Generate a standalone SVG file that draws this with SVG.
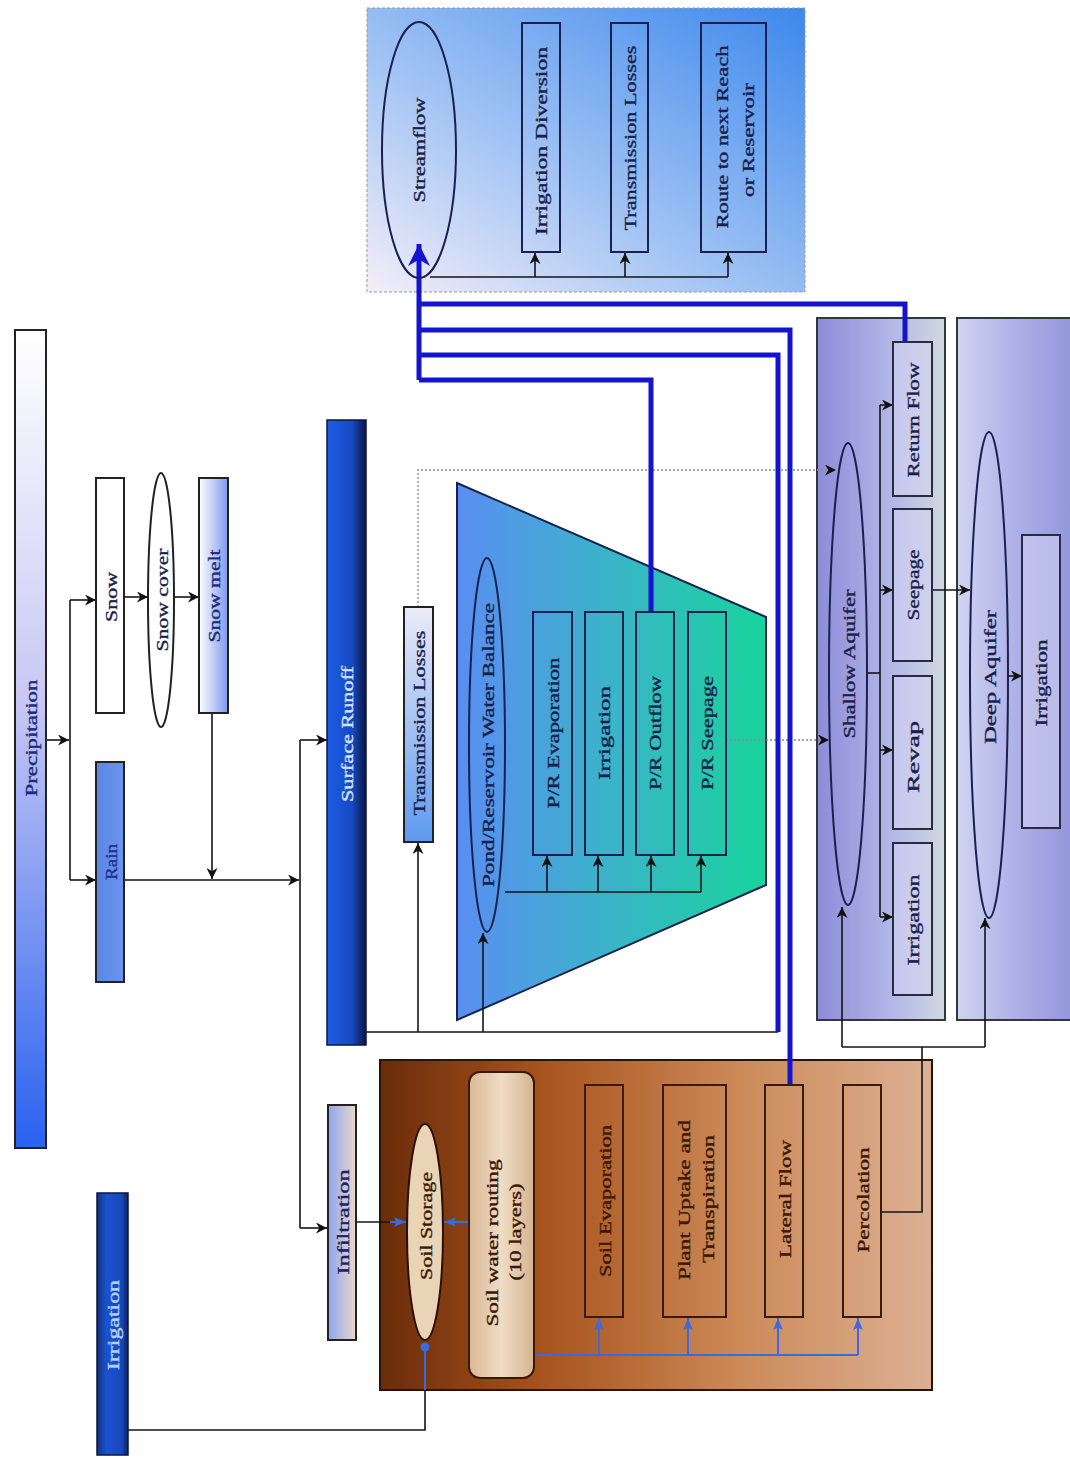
<svg xmlns="http://www.w3.org/2000/svg" width="1070" height="1458" viewBox="0 0 1070 1458">
<style>
text{font-family:"Liberation Serif","Times New Roman",serif;font-size:16px;text-anchor:middle;dominant-baseline:central;color:#1a1f4a;fill:currentColor;stroke:currentColor;stroke-width:0.35}
.box{fill:none;stroke:#1a2050;stroke-width:2}
.ln{fill:none;stroke:#151515;stroke-width:1.6}
.bl{fill:none;stroke:#1414d0;stroke-width:5}
.sb{fill:none;stroke:#3a6ae0;stroke-width:2}
.dt{fill:none;stroke:#8a8a8a;stroke-width:1.3;stroke-dasharray:2 2}
.sbox{fill:none;stroke:#3a1a0a;stroke-width:2}
.abox{fill:#d4d6f2;fill-opacity:0.55;stroke:#2a2a40;stroke-width:2}
.st{color:#3a1808}
</style>
<defs>
<linearGradient id="gPrec" x1="0" y1="0" x2="0" y2="1"><stop offset="0" stop-color="#ffffff"/><stop offset="0.45" stop-color="#c8c8f4"/><stop offset="1" stop-color="#2a62f0"/></linearGradient>
<linearGradient id="gMelt" x1="0" y1="0" x2="1" y2="0"><stop offset="0" stop-color="#ffffff"/><stop offset="1" stop-color="#7d98ee"/></linearGradient>
<linearGradient id="gRain" x1="0" y1="0" x2="1" y2="0"><stop offset="0" stop-color="#5a86e6"/><stop offset="1" stop-color="#6a94ee"/></linearGradient>
<linearGradient id="gSR" x1="0" y1="0" x2="1" y2="0"><stop offset="0" stop-color="#1c5ee8"/><stop offset="0.65" stop-color="#1848c0"/><stop offset="1" stop-color="#0a1640"/></linearGradient>
<linearGradient id="gIrr" x1="0" y1="0" x2="1" y2="0"><stop offset="0" stop-color="#14307a"/><stop offset="0.3" stop-color="#1a52d0"/><stop offset="0.8" stop-color="#1848b8"/><stop offset="1" stop-color="#0e2260"/></linearGradient>
<linearGradient id="gInf" x1="0" y1="0" x2="1" y2="0"><stop offset="0" stop-color="#8ea6f0"/><stop offset="1" stop-color="#ead8c8"/></linearGradient>
<linearGradient id="gTL" x1="0" y1="0" x2="0" y2="1"><stop offset="0" stop-color="#ecebf8"/><stop offset="1" stop-color="#5d9af0"/></linearGradient>
<linearGradient id="gPanel" x1="0" y1="1" x2="1" y2="0"><stop offset="0" stop-color="#f4eef8"/><stop offset="0.4" stop-color="#a6c6f4"/><stop offset="1" stop-color="#3c88ec"/></linearGradient>
<linearGradient id="gTrap" x1="0" y1="0" x2="1" y2="0"><stop offset="0" stop-color="#5a8ef2"/><stop offset="0.5" stop-color="#3ab4c8"/><stop offset="1" stop-color="#18d49c"/></linearGradient>
<linearGradient id="gSh" x1="0" y1="0" x2="1" y2="0"><stop offset="0" stop-color="#8c8cd8"/><stop offset="0.6" stop-color="#b4b8e8"/><stop offset="1" stop-color="#d0d8e0"/></linearGradient>
<linearGradient id="gDp" x1="0" y1="0" x2="1" y2="0"><stop offset="0" stop-color="#d0d4f0"/><stop offset="0.5" stop-color="#aeb0e8"/><stop offset="1" stop-color="#9294dc"/></linearGradient>
<linearGradient id="gSoil" x1="0" y1="0" x2="1" y2="0"><stop offset="0" stop-color="#6a2c0a"/><stop offset="0.3" stop-color="#a8541e"/><stop offset="0.65" stop-color="#cc8a58"/><stop offset="1" stop-color="#dcb094"/></linearGradient>
<linearGradient id="gSWR" x1="0" y1="0" x2="1" y2="0"><stop offset="0" stop-color="#d8b896"/><stop offset="0.5" stop-color="#f0dcc4"/><stop offset="1" stop-color="#d4b492"/></linearGradient>
<marker id="ah" viewBox="0 0 10 10" refX="10" refY="5" markerWidth="11" markerHeight="11" markerUnits="userSpaceOnUse" orient="auto"><path d="M0,0 L10,5 L0,10 L3,5 z" fill="#111"/></marker>
<marker id="ahb" viewBox="0 0 10 10" refX="10" refY="5" markerWidth="22" markerHeight="22" markerUnits="userSpaceOnUse" orient="auto"><path d="M0,0 L10,5 L0,10 L3,5 z" fill="#1414d0"/></marker>
<marker id="ahs" viewBox="0 0 10 10" refX="10" refY="5" markerWidth="12" markerHeight="12" markerUnits="userSpaceOnUse" orient="auto"><path d="M0,1 L10,5 L0,9 L2,5 z" fill="#3a6ae0"/></marker>
</defs>
<rect width="1070" height="1458" fill="#ffffff"/>

<g id="streamflow-panel">
<rect x="367" y="8" width="438" height="284" fill="url(#gPanel)" stroke="#9a9a9a" stroke-width="1" stroke-dasharray="3 2"/>
</g>
<g id="soil-panel">
<rect x="380" y="1060" width="552" height="330" fill="url(#gSoil)" stroke="#2a1408" stroke-width="2"/>
</g>
<g id="shallow-panel">
<rect x="817" y="318" width="128" height="702" fill="url(#gSh)" stroke="#303838" stroke-width="2"/>
</g>
<g id="deep-panel">
<rect x="957" y="318" width="118" height="702" fill="url(#gDp)" stroke="#303838" stroke-width="2"/>
</g>
<g id="reservoir">
<polygon points="457,483 766,617 766,885 457,1020" fill="url(#gTrap)" stroke="#1a2050" stroke-width="2"/>
</g>

<g id="connectors">
<path class="ln" d="M46,740 H69" marker-end="url(#ah)"/>
<path class="ln" d="M70,600 V880"/>
<path class="ln" d="M70,600 H96" marker-end="url(#ah)"/>
<path class="ln" d="M70,880 H96" marker-end="url(#ah)"/>
<path class="ln" d="M124,597 H148" marker-end="url(#ah)"/>
<path class="ln" d="M174,597 H199" marker-end="url(#ah)"/>
<path class="ln" d="M212,713 V879" marker-end="url(#ah)"/>
<path class="ln" d="M124,880 H299" marker-end="url(#ah)"/>
<path class="ln" d="M300,740 V1228"/>
<path class="ln" d="M300,740 H327" marker-end="url(#ah)"/>
<path class="ln" d="M300,1228 H327" marker-end="url(#ah)"/>
<path class="ln" d="M356,1222 H390"/>
<path class="sb" d="M390,1222 H406" marker-end="url(#ahs)"/>
<path class="sb" d="M469,1222 H444" marker-end="url(#ahs)"/>
<circle cx="425" cy="1347" r="4.5" fill="#3a6ae0"/>
<path class="sb" d="M425,1347 V1390"/>
<path class="ln" d="M425,1390 V1430 H128"/>
<path class="sb" d="M534,1355 H858"/>
<path class="sb" d="M599,1355 V1318" marker-end="url(#ahs)"/>
<path class="sb" d="M688,1355 V1318" marker-end="url(#ahs)"/>
<path class="sb" d="M778,1355 V1318" marker-end="url(#ahs)"/>
<path class="sb" d="M858,1355 V1318" marker-end="url(#ahs)"/>
<path class="ln" d="M881,1212 H922 V1047"/>
<path class="ln" d="M842,1047 H985"/>
<path class="ln" d="M842,1047 V907" marker-end="url(#ah)"/>
<path class="ln" d="M985,1047 V918" marker-end="url(#ah)"/>
<path class="ln" d="M366,1032 H778"/>
<path class="ln" d="M418,1032 V843" marker-end="url(#ah)"/>
<path class="ln" d="M483,1032 V933" marker-end="url(#ah)"/>
<path class="ln" d="M505,892 H701"/>
<path class="ln" d="M547,892 V856" marker-end="url(#ah)"/>
<path class="ln" d="M598,892 V856" marker-end="url(#ah)"/>
<path class="ln" d="M651,892 V856" marker-end="url(#ah)"/>
<path class="ln" d="M701,892 V856" marker-end="url(#ah)"/>
<path class="dt" d="M418,607 V470 H836" marker-end="url(#ah)"/>
<path class="dt" d="M726,740 H829" marker-end="url(#ah)"/>
<path class="ln" d="M867,673 H880"/>
<path class="ln" d="M880,405 V917"/>
<path class="ln" d="M880,405 H893" marker-end="url(#ah)"/>
<path class="ln" d="M880,590 H893" marker-end="url(#ah)"/>
<path class="ln" d="M880,750 H893" marker-end="url(#ah)"/>
<path class="ln" d="M880,917 H893" marker-end="url(#ah)"/>
<path class="ln" d="M932,590 H970" marker-end="url(#ah)"/>
<path class="ln" d="M1008,676 H1022" marker-end="url(#ah)"/>
<path class="ln" d="M430,277 H728"/>
<path class="ln" d="M535,277 V253" marker-end="url(#ah)"/>
<path class="ln" d="M625,277 V253" marker-end="url(#ah)"/>
<path class="ln" d="M728,277 V253" marker-end="url(#ah)"/>
<path class="bl" d="M905,342 V304 H419"/>
<path class="bl" d="M790,1085 V330 H419"/>
<path class="bl" d="M778,1032 V355 H419"/>
<path class="bl" d="M651,612 V380 H419"/>
<path class="bl" d="M419,380 V244" marker-end="url(#ahb)"/>
</g>

<g id="precipitation"><rect x="15" y="330" width="31" height="818" fill="url(#gPrec)" stroke="#222" stroke-width="2"/><text transform="translate(31,738) rotate(-90)" textLength="117" lengthAdjust="spacingAndGlyphs" style="color:#1c2c7c">Precipitation</text></g>
<g id="snow"><rect x="96" y="478" width="28" height="235" fill="#ffffff" stroke="#222" stroke-width="2"/><text transform="translate(111,597) rotate(-90)" textLength="50" lengthAdjust="spacingAndGlyphs">Snow</text></g>
<g id="snow-cover"><ellipse cx="161" cy="600" rx="13" ry="127" fill="#ffffff" stroke="#222" stroke-width="2"/><text transform="translate(162,600) rotate(-90)" textLength="103" lengthAdjust="spacingAndGlyphs">Snow cover</text></g>
<g id="snow-melt"><rect x="199" y="478" width="29" height="235" fill="url(#gMelt)" stroke="#222" stroke-width="2"/><text transform="translate(214,596) rotate(-90)" textLength="93" lengthAdjust="spacingAndGlyphs" style="color:#1c2c7c">Snow melt</text></g>
<g id="rain"><rect x="96" y="762" width="28" height="220" fill="url(#gRain)" stroke="#222" stroke-width="2"/><text transform="translate(111,862) rotate(-90)" textLength="36" lengthAdjust="spacingAndGlyphs" style="color:#1c3090">Rain</text></g>
<g id="surface-runoff"><rect x="327" y="420" width="39" height="625" fill="url(#gSR)" stroke="#0a1640" stroke-width="1.5"/><text transform="translate(347,734) rotate(-90)" textLength="136" lengthAdjust="spacingAndGlyphs" style="color:#d4e2ff">Surface Runoff</text></g>
<g id="infiltration"><rect x="328" y="1105" width="28" height="235" fill="url(#gInf)" stroke="#222" stroke-width="2"/><text transform="translate(343,1222) rotate(-90)" textLength="105" lengthAdjust="spacingAndGlyphs" style="color:#1c2460">Infiltration</text></g>
<g id="irrigation-source"><rect x="97" y="1193" width="31" height="262" fill="url(#gIrr)" stroke="#0a1640" stroke-width="1.5"/><text transform="translate(113,1325) rotate(-90)" textLength="90" lengthAdjust="spacingAndGlyphs" style="color:#b4d2ff">Irrigation</text></g>

<g id="streamflow"><ellipse cx="419" cy="150" rx="37" ry="128" fill="none" stroke="#1a2050" stroke-width="2"/><text transform="translate(419,150) rotate(-90)" textLength="105" lengthAdjust="spacingAndGlyphs">Streamflow</text></g>
<g id="irrigation-diversion"><rect x="522" y="23" width="38" height="229" class="box"/><text transform="translate(541,141) rotate(-90)" textLength="188" lengthAdjust="spacingAndGlyphs">Irrigation Diversion</text></g>
<g id="stream-transmission-losses"><rect x="611" y="23" width="37" height="229" class="box"/><text transform="translate(630,138) rotate(-90)" textLength="185" lengthAdjust="spacingAndGlyphs">Transmission Losses</text></g>
<g id="route"><rect x="701" y="23" width="65" height="229" class="box"/><text transform="translate(722,137) rotate(-90)" textLength="183" lengthAdjust="spacingAndGlyphs">Route to next Reach</text><text transform="translate(748,140) rotate(-90)" textLength="114" lengthAdjust="spacingAndGlyphs">or Reservoir</text></g>

<g id="transmission-losses"><rect x="404" y="607" width="29" height="235" fill="url(#gTL)" stroke="#222" stroke-width="2"/><text transform="translate(419,723) rotate(-90)" textLength="185" lengthAdjust="spacingAndGlyphs">Transmission Losses</text></g>
<g id="pond-balance"><ellipse cx="487" cy="745" rx="18" ry="187" fill="none" stroke="#1a2050" stroke-width="2"/><text transform="translate(488,745) rotate(-90)" textLength="284" lengthAdjust="spacingAndGlyphs">Pond/Reservoir Water Balance</text></g>
<g id="pr-evaporation"><rect x="533" y="612" width="39" height="243" class="box"/><text transform="translate(553,733) rotate(-90)" textLength="151" lengthAdjust="spacingAndGlyphs">P/R Evaporation</text></g>
<g id="pr-irrigation"><rect x="585" y="612" width="38" height="243" class="box"/><text transform="translate(604,733) rotate(-90)" textLength="94" lengthAdjust="spacingAndGlyphs">Irrigation</text></g>
<g id="pr-outflow"><rect x="636" y="612" width="38" height="243" class="box"/><text transform="translate(655,733) rotate(-90)" textLength="114" lengthAdjust="spacingAndGlyphs">P/R Outflow</text></g>
<g id="pr-seepage"><rect x="688" y="612" width="38" height="243" class="box"/><text transform="translate(707,733) rotate(-90)" textLength="114" lengthAdjust="spacingAndGlyphs">P/R Seepage</text></g>

<g id="shallow-aquifer"><ellipse cx="848" cy="674" rx="19" ry="231" fill="none" stroke="#1a2050" stroke-width="2"/><text transform="translate(849,664) rotate(-90)" textLength="149" lengthAdjust="spacingAndGlyphs">Shallow Aquifer</text></g>
<g id="return-flow"><rect x="893" y="342" width="39" height="154" class="abox"/><text transform="translate(913,420) rotate(-90)" textLength="115" lengthAdjust="spacingAndGlyphs">Return Flow</text></g>
<g id="seepage"><rect x="893" y="509" width="39" height="152" class="abox"/><text transform="translate(913,585) rotate(-90)" textLength="71" lengthAdjust="spacingAndGlyphs">Seepage</text></g>
<g id="revap"><rect x="893" y="676" width="39" height="153" class="abox"/><text transform="translate(913,757) rotate(-90)" textLength="72" lengthAdjust="spacingAndGlyphs">Revap</text></g>
<g id="shallow-irrigation"><rect x="893" y="843" width="39" height="152" class="abox"/><text transform="translate(913,920) rotate(-90)" textLength="91" lengthAdjust="spacingAndGlyphs">Irrigation</text></g>
<g id="deep-aquifer"><ellipse cx="989" cy="675" rx="19" ry="243" fill="none" stroke="#1a2050" stroke-width="2"/><text transform="translate(990,677) rotate(-90)" textLength="134" lengthAdjust="spacingAndGlyphs">Deep Aquifer</text></g>
<g id="deep-irrigation"><rect x="1022" y="535" width="38" height="293" class="abox"/><text transform="translate(1041,683) rotate(-90)" textLength="87" lengthAdjust="spacingAndGlyphs">Irrigation</text></g>

<g id="soil-storage"><ellipse cx="425" cy="1232" rx="18" ry="108" fill="#ead4b6" stroke="#2a1006" stroke-width="2"/><text class="st" transform="translate(426,1226) rotate(-90)" textLength="108" lengthAdjust="spacingAndGlyphs">Soil Storage</text></g>
<g id="soil-water-routing"><rect x="469" y="1072" width="65" height="306" rx="11" fill="url(#gSWR)" stroke="#3a1808" stroke-width="2"/><text class="st" transform="translate(492,1243) rotate(-90)" textLength="167" lengthAdjust="spacingAndGlyphs">Soil water routing</text><text class="st" transform="translate(515,1232) rotate(-90)" textLength="97" lengthAdjust="spacingAndGlyphs">(10 layers)</text></g>
<g id="soil-evaporation"><rect x="585" y="1085" width="38" height="232" class="sbox"/><text class="st" transform="translate(605,1201) rotate(-90)" textLength="152" lengthAdjust="spacingAndGlyphs">Soil Evaporation</text></g>
<g id="plant-uptake"><rect x="663" y="1085" width="63" height="232" class="sbox"/><text class="st" transform="translate(684,1200) rotate(-90)" textLength="160" lengthAdjust="spacingAndGlyphs">Plant Uptake and</text><text class="st" transform="translate(708,1199) rotate(-90)" textLength="128" lengthAdjust="spacingAndGlyphs">Transpiration</text></g>
<g id="lateral-flow"><rect x="765" y="1085" width="38" height="232" class="sbox"/><text class="st" transform="translate(785,1199) rotate(-90)" textLength="118" lengthAdjust="spacingAndGlyphs">Lateral Flow</text></g>
<g id="percolation"><rect x="843" y="1085" width="38" height="232" class="sbox"/><text class="st" transform="translate(863,1200) rotate(-90)" textLength="105" lengthAdjust="spacingAndGlyphs">Percolation</text></g>
</svg>
